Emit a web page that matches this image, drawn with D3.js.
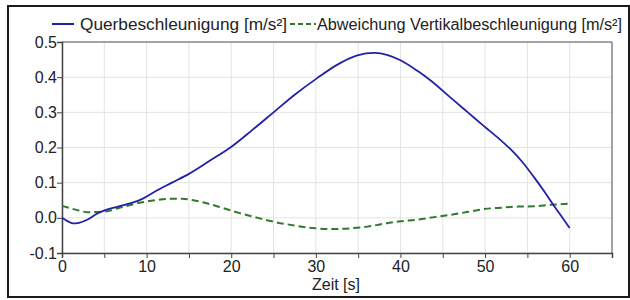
<!DOCTYPE html>
<html>
<head>
<meta charset="utf-8">
<script src="https://cdn.jsdelivr.net/npm/d3@7"></script>
<style>
  body { margin: 0; background: #fff; }
  svg { display: block; font-family: "Liberation Sans", Arial, sans-serif; }
</style>
</head>
<body>
<svg width="630" height="300"></svg>
<script>
var svg = d3.select("svg"),
    width = 630,
    height = 300;

// ---- data ----
var seriesNames = ["Querbeschleunigung [m/s\u00b2]", "Abweichung Vertikalbeschleunigung [m/s\u00b2]"];

var querT = [0, 0.7, 1.35, 2, 3.1, 4, 5.1, 6.5, 8.3, 9.5, 11, 13, 15, 17.5, 19.9, 22.5, 25, 27.5, 30.2, 32.5, 34.9, 36.9, 38.5, 40, 42, 43.6, 46.2, 48, 49.9, 51.5, 53.1, 54.5, 55.8, 57, 58.2, 59, 60];
var querV = [0, -0.010, -0.016, -0.014, -0.004, 0.010, 0.022, 0.031, 0.043, 0.054, 0.075, 0.100, 0.125, 0.163, 0.200, 0.250, 0.300, 0.350, 0.398, 0.435, 0.462, 0.469, 0.463, 0.448, 0.418, 0.390, 0.336, 0.299, 0.260, 0.228, 0.193, 0.156, 0.115, 0.075, 0.032, 0.005, -0.029];

var abwT = [0, 1.5, 3.1, 5.1, 7, 9, 11, 12.6, 14.2, 15.5, 17, 19, 20.9, 22.8, 24.8, 27, 29.6, 32.1, 34, 36.1, 38.5, 40, 42, 44, 46, 48, 49.9, 52, 53.9, 55.8, 57.8, 60];
var abwV = [0.034, 0.024, 0.016, 0.018, 0.030, 0.042, 0.050, 0.054, 0.054, 0.050, 0.042, 0.028, 0.014, 0.002, -0.010, -0.020, -0.029, -0.032, -0.030, -0.025, -0.015, -0.010, -0.005, 0.002, 0.009, 0.017, 0.025, 0.029, 0.032, 0.033, 0.037, 0.040];

var xTicks = [0, 10, 20, 30, 40, 50, 60];
var xMinor = d3.range(0, 66, 5);
var yTicks = [-0.1, 0, 0.1, 0.2, 0.3, 0.4, 0.5];

var colors = ["#2121a8", "#2e7a2e"];

// ---- layout ----
var x = d3.scaleLinear().domain([0, 65]).range([62, 612]);
var y = d3.scaleLinear().domain([-0.1, 0.5]).range([253, 42]);

// outer frame
svg.append("rect")
    .attr("x", 8).attr("y", 6)
    .attr("width", 621).attr("height", 291)
    .attr("fill", "none")
    .attr("stroke", "#1a1a1a")
    .attr("stroke-width", 2);

// grid
svg.append("g").selectAll("line").data(xMinor).join("line")
    .attr("x1", d => x(d)).attr("x2", d => x(d))
    .attr("y1", y(0.5)).attr("y2", y(-0.1))
    .attr("stroke", "#e3e3e3").attr("stroke-width", 1);
svg.append("g").selectAll("line").data(yTicks).join("line")
    .attr("x1", x(0)).attr("x2", x(65))
    .attr("y1", d => y(d)).attr("y2", d => y(d))
    .attr("stroke", "#e3e3e3").attr("stroke-width", 1);

// plot frame top / right
svg.append("line")
    .attr("x1", x(0)).attr("x2", x(65))
    .attr("y1", y(0.5)).attr("y2", y(0.5))
    .attr("stroke", "#555").attr("stroke-width", 1);
svg.append("line")
    .attr("x1", x(65)).attr("x2", x(65))
    .attr("y1", y(0.5)).attr("y2", y(-0.1))
    .attr("stroke", "#555").attr("stroke-width", 1);

// axes
var xAxis = svg.append("g")
    .attr("transform", "translate(0," + y(-0.1) + ")")
    .call(d3.axisBottom(x).tickValues(xMinor).tickSize(5).tickFormat(d => xTicks.indexOf(d) >= 0 ? d : ""));
var yAxis = svg.append("g")
    .attr("transform", "translate(" + x(0) + ",0)")
    .call(d3.axisLeft(y).tickValues(yTicks).tickSize(5).tickFormat(d3.format(".1f")));

[xAxis, yAxis].forEach(function(g) {
    g.select(".domain").attr("stroke", "#444").attr("stroke-width", 1.5);
    g.selectAll(".tick line").attr("stroke", "#444");
    g.selectAll(".tick text")
        .attr("fill", "#222")
        .style("font-size", "16px")
        .style("font-family", "'Liberation Sans', Arial, sans-serif");
});
xAxis.selectAll(".tick text").attr("y", 8);
yAxis.selectAll(".tick text").attr("x", -5).text(d => d < 0 ? "-" + Math.abs(d).toFixed(1) : d.toFixed(1));

// axis title
svg.append("text")
    .attr("x", 312).attr("y", 290)
    .attr("fill", "#222")
    .style("font-size", "16px")
    .text("Zeit [s]");

// lines
var line = d3.line().x(d => x(d[0])).y(d => y(d[1])).curve(d3.curveMonotoneX);

svg.append("path")
    .datum(abwT.map((t, i) => [t, abwV[i]]))
    .attr("d", line)
    .attr("fill", "none")
    .attr("stroke", colors[1])
    .attr("stroke-width", 2)
    .attr("stroke-dasharray", "7,4");

svg.append("path")
    .datum(querT.map((t, i) => [t, querV[i]]))
    .attr("d", line)
    .attr("fill", "none")
    .attr("stroke", colors[0])
    .attr("stroke-width", 1.8);

// legend
var legend = svg.append("g").style("font-size", "16px");
legend.append("line")
    .attr("x1", 52).attr("x2", 74).attr("y1", 24).attr("y2", 24)
    .attr("stroke", colors[0]).attr("stroke-width", 2);
legend.append("text")
    .attr("x", 80).attr("y", 30)
    .attr("fill", "#222")
    .attr("textLength", 207)
    .attr("lengthAdjust", "spacingAndGlyphs")
    .text(seriesNames[0]);
legend.append("line")
    .attr("x1", 290).attr("x2", 316).attr("y1", 24).attr("y2", 24)
    .attr("stroke", colors[1]).attr("stroke-width", 2)
    .attr("stroke-dasharray", "5,3");
legend.append("text")
    .attr("x", 317).attr("y", 30)
    .attr("fill", "#222")
    .attr("textLength", 305)
    .attr("lengthAdjust", "spacingAndGlyphs")
    .text(seriesNames[1]);
</script>
</body>
</html>
